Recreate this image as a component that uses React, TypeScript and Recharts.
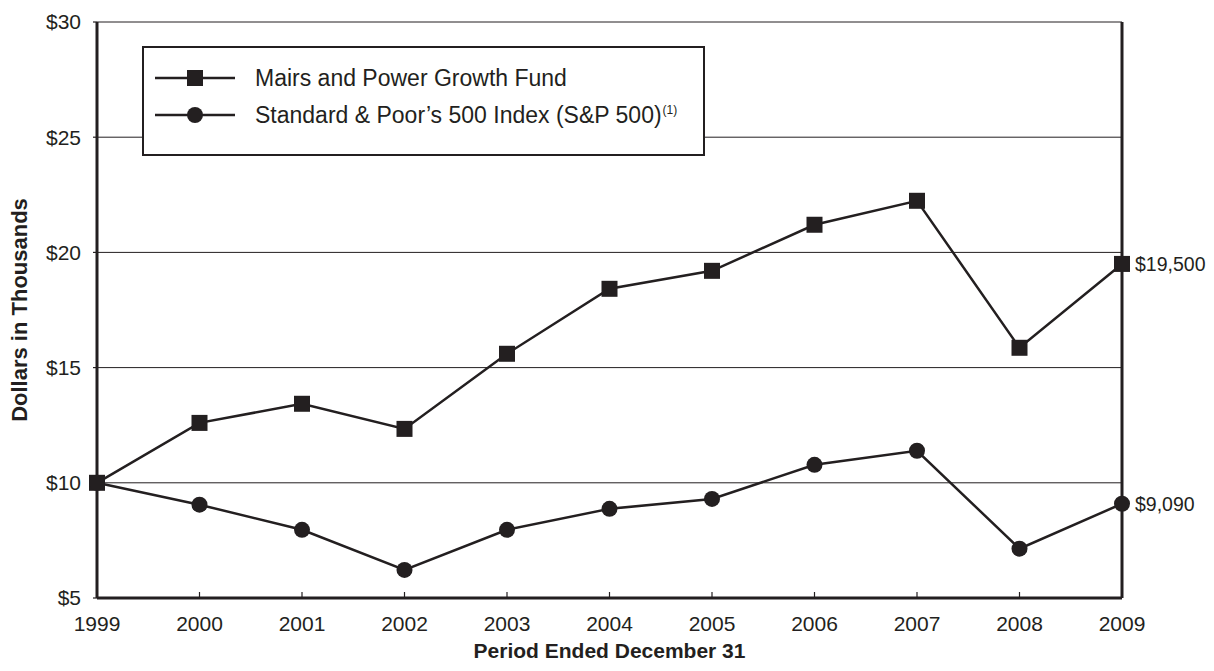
import React from "react";
import { LineChart, Line, XAxis, YAxis, CartesianGrid, ReferenceLine, LabelList } from "recharts";

const years = [1999, 2000, 2001, 2002, 2003, 2004, 2005, 2006, 2007, 2008, 2009];
const fundValues = [10, 12.6, 13.43, 12.34, 15.6, 18.42, 19.2, 21.2, 22.24, 15.86, 19.5];
const spValues = [10, 9.05, 7.96, 6.22, 7.96, 8.87, 9.3, 10.78, 11.39, 7.14, 9.09];
const yTicks = [5, 10, 15, 20, 25, 30];
const endLabels = { fund: "$19,500", sp: "$9,090" };
const seriesNames = { fund: "Mairs and Power Growth Fund", sp: "Standard & Poor\u2019s 500 Index (S&P 500)" };
const axisTitles = { x: "Period Ended December 31", y: "Dollars in Thousands" };

const data = years.map((y, i) => ({ year: y, fund: fundValues[i], sp: spValues[i] }));

const INK = "#231f20";
const FONT = "'Liberation Sans', Arial, Helvetica, sans-serif";

const SquareDot = (props: any) => {
  const { cx, cy } = props;
  if (cx == null || cy == null) return null;
  return <rect x={cx - 8} y={cy - 8} width={16} height={16} fill={INK} />;
};
const CircleDot = (props: any) => {
  const { cx, cy } = props;
  if (cx == null || cy == null) return null;
  return <circle cx={cx} cy={cy} r={8} fill={INK} />;
};

const XTick = (props: any) => {
  const { x, y, payload } = props;
  return (
    <g>
      <line x1={x} y1={y} x2={x} y2={y - 6} stroke={INK} strokeWidth={1.2} />
      <text x={x} y={y + 33} textAnchor="middle" fontFamily={FONT} fontSize={21} fill={INK}>
        {payload.value}
      </text>
    </g>
  );
};

const makeEndLabel = (text: string, lastIndex: number) => (props: any) => {
  const { x, y, index } = props;
  if (index !== lastIndex) return null;
  return (
    <text x={x + 13} y={y + 7} fontFamily={FONT} fontSize={19.5} fill={INK}>
      {text}
    </text>
  );
};

const XTitle = (props: any) => {
  const vb = props.viewBox || {};
  return (
    <text x={vb.x + vb.width / 2} y={650} textAnchor="middle" fontFamily={FONT} fontSize={21} fontWeight="bold" fill={INK}>
      {axisTitles.x}
    </text>
  );
};

const YTitle = (props: any) => {
  const vb = props.viewBox || {};
  const cy = vb.y + vb.height / 2;
  return (
    <text
      x={11}
      y={cy}
      transform={`rotate(-90, 11, ${cy})`}
      textAnchor="middle"
      dominantBaseline="central"
      fontFamily={FONT}
      fontSize={22}
      fontWeight="bold"
      fill={INK}
    >
      {axisTitles.y}
    </text>
  );
};

const LegendBox = () => (
  <div
    style={{
      position: "absolute",
      left: 134,
      top: 38,
      width: 563,
      height: 110,
      border: `2.5px solid ${INK}`,
      background: "#fff",
      boxSizing: "border-box",
      fontFamily: FONT,
      fontSize: 23,
      lineHeight: "26px",
      color: INK,
    }}
  >
    <svg width={100} height={100} style={{ position: "absolute", left: 11, top: 0 }}>
      <line x1={0} y1={30} x2={80} y2={30} stroke={INK} strokeWidth={2.5} />
      <rect x={32} y={22} width={16} height={16} fill={INK} />
      <line x1={0} y1={67} x2={80} y2={67} stroke={INK} strokeWidth={2.5} />
      <circle cx={40} cy={67} r={8} fill={INK} />
    </svg>
    <div style={{ position: "absolute", left: 111, top: 17, whiteSpace: "nowrap" }}>{seriesNames.fund}</div>
    <div style={{ position: "absolute", left: 111, top: 54, whiteSpace: "nowrap" }}>
      {seriesNames.sp}
      <span style={{ fontSize: 12, position: "relative", top: -9, marginLeft: 1 }}>(1)</span>
    </div>
  </div>
);

export default function App() {
  return (
    <div style={{ width: 1198, height: 655, position: "relative" }}>
      <LineChart width={1198} height={655} data={data} margin={{ top: 14, right: 84, left: 0, bottom: 0 }}>
        <CartesianGrid horizontal vertical={false} stroke={INK} strokeWidth={1} strokeOpacity={1} />
        <XAxis
          dataKey="year"
          type="number"
          domain={[1999, 2009]}
          ticks={years}
          height={65}
          axisLine={{ stroke: INK, strokeWidth: 3 }}
          tickLine={false}
          tickSize={0}
          tickMargin={0}
          tick={<XTick />}
          interval={0}
          label={<XTitle />}
        />
        <YAxis
          domain={[5, 30]}
          ticks={yTicks}
          width={89}
          axisLine={{ stroke: INK, strokeWidth: 3 }}
          tickLine={{ stroke: INK, strokeWidth: 1.2 }}
          tickSize={4}
          tickMargin={12}
          tickFormatter={(v: number) => `$${v}`}
          tick={{ fontFamily: FONT, fontSize: 21, fill: INK }}
          label={<YTitle />}
        />
        <ReferenceLine x={2009} stroke={INK} strokeWidth={3} />
        <Line dataKey="fund" stroke={INK} strokeWidth={2.5} dot={<SquareDot />} isAnimationActive={false}>
          <LabelList dataKey="fund" content={makeEndLabel(endLabels.fund, years.length - 1)} />
        </Line>
        <Line dataKey="sp" stroke={INK} strokeWidth={2.5} dot={<CircleDot />} isAnimationActive={false}>
          <LabelList dataKey="sp" content={makeEndLabel(endLabels.sp, years.length - 1)} />
        </Line>
      </LineChart>
      <LegendBox />
    </div>
  );
}
